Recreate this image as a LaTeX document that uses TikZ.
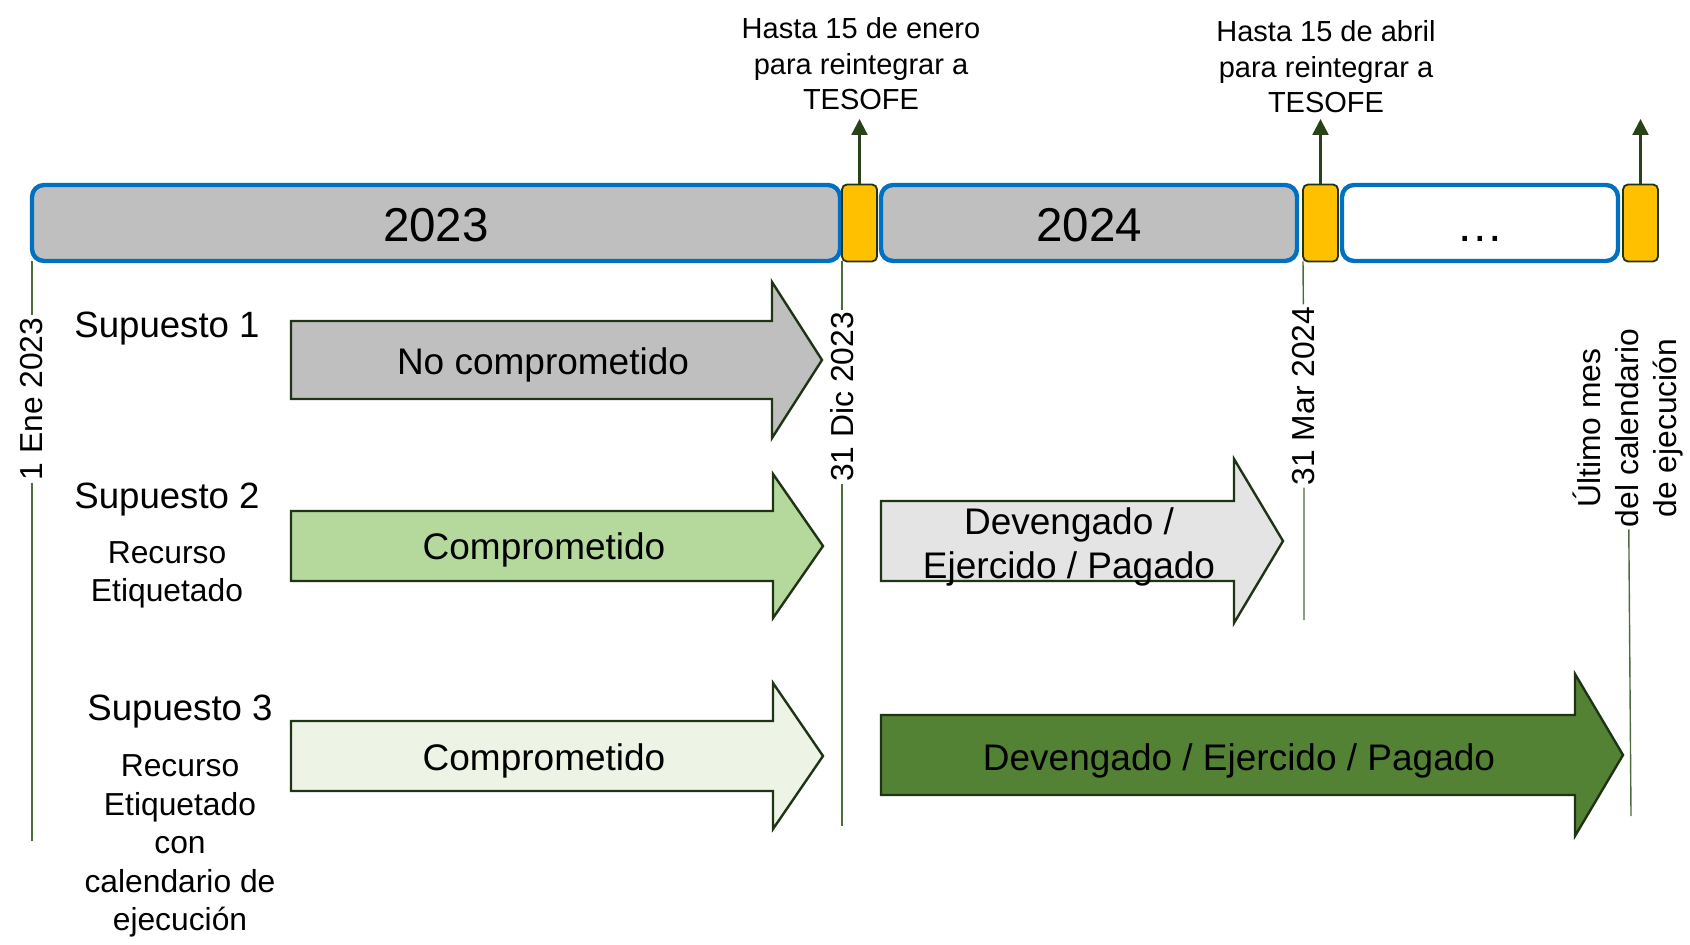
\documentclass[tikz,border=0pt]{standalone}
\usepackage{fontspec}
\setmainfont{Liberation Sans}
\usetikzlibrary{positioning,arrows.meta}
\definecolor{barblue}{HTML}{0070C0}
\definecolor{bargray}{HTML}{BFBFBF}
\definecolor{cutyellow}{HTML}{FFC000}
\definecolor{edgegreen}{HTML}{1F3315}
\definecolor{arrowgreen}{HTML}{28421A}
\definecolor{tickgreen}{HTML}{4E6B3C}
\definecolor{greenmid}{HTML}{B5D89C}
\definecolor{greenpale}{HTML}{EDF4E6}
\definecolor{graypale}{HTML}{E4E4E4}
\definecolor{greendark}{HTML}{548235}

\begin{document}
\begin{tikzpicture}[x=0.5pt,y=-0.5pt,
 yearbar/.style={draw=barblue,line width=2.2pt,rounded corners=6pt,minimum height=38pt,
  inner sep=0pt,outer sep=0pt,text height=19pt,text depth=0pt,font=\fontsize{23.75}{28.5}\selectfont},
 cutbox/.style={draw=edgegreen,fill=cutyellow,line width=0.9pt,rounded corners=2.5pt,
  minimum width=17.5pt,minimum height=38.5pt,inner sep=0pt,outer sep=0pt},
 uparrow/.style={draw=arrowgreen,line width=1.2pt,-{Triangle[length=8pt,width=8pt]}},
 tick/.style={draw=tickgreen,line width=0.7pt},
 datelab/.style={rotate=90,inner sep=1pt,align=center,font=\fontsize{15.9}{19}\selectfont},
 note/.style={align=center,font=\fontsize{14.5}{17.8}\selectfont},
 casename/.style={font=\fontsize{18.3}{22}\selectfont},
 casenote/.style={align=center,font=\fontsize{15.9}{19.2}\selectfont},
 phase/.style={align=center,font=\fontsize{18.5}{22}\selectfont},
 blockarrow/.style={draw=edgegreen,line width=1.2pt,line join=miter}]
\useasboundingbox (0,0) rectangle (1690,945);

\node[yearbar,fill=bargray,minimum width=404pt] (y23) at (436,223) {2023};
\node[cutbox,right=1pt of y23] (c1) {};
\node[yearbar,fill=bargray,minimum width=208pt,right=2pt of c1] (y24) {2024};
\node[cutbox,right=3pt of y24] (c2) {};
\node[yearbar,fill=white,minimum width=138pt,right=2pt of c2] (ydots) {\ldots};
\node[cutbox,right=2.5pt of ydots] (c3) {};

\coordinate (top) at (0,119);
\foreach \c in {c1,c2,c3}{
\draw[uparrow] (\c.north) -- (\c.north |- top);};

\node[note] (n1) at (861,64) {Hasta 15 de enero\\para reintegrar a\\TESOFE};
\node[note] (n2) at (1326,67) {Hasta 15 de abril\\para reintegrar a\\TESOFE};

\coordinate (e1) at (32,841);
\coordinate (e2) at (842,826);
\coordinate (e3) at (1304,620);
\coordinate (e4) at (1631,816);
\node[datelab] (d1) at (32,399) {1 Ene 2023};
\node[datelab] (d2) at (842,397) {31 Dic 2023};
\node[datelab] (d3) at (1304,396) {31 Mar 2024};
\node[datelab,font=\fontsize{15.9}{19}\selectfont] (d4) at (1628,428) {Último mes\\del calendario\\de ejecución};
\draw[tick] (y23.south west) -- (d1) -- (e1);
\draw[tick] (c1.south west) -- (d2) -- (e2);
\draw[tick] (c2.south west) -- (d3) -- (e3);
\draw[tick] (d4) -- (e4);

\foreach \xa/\xb/\xc/\ym/\bh/\hh/\col in {291/772/822/360/39/78/bargray,
 291/773/823/546/35/72/greenmid,291/773/823/756/35/73/greenpale,
 881/1234/1283/541/40/82/graypale,881/1575/1623/755/40/81/greendark}{
\draw[blockarrow,fill=\col] (\xa,\ym-\bh) -- (\xb,\ym-\bh) -- (\xb,\ym-\hh) -- (\xc,\ym)
 -- (\xb,\ym+\hh) -- (\xb,\ym+\bh) -- (\xa,\ym+\bh) -- cycle;};

\node[phase] (p1) at (543,365) {No comprometido};
\node[phase] (p2) at (544,550) {Comprometido};
\node[phase] (p3) at (544,761) {Comprometido};
\node[phase] (p4) at (1069,547) {Devengado /\\Ejercido / Pagado};
\node[phase] (p5) at (1239,761) {Devengado / Ejercido / Pagado};

\node[casename] (s1) at (167,329) {Supuesto 1};
\node[casename] (s2) at (167,500) {Supuesto 2};
\node[casenote] (r2) at (167,575) {Recurso\\Etiquetado};
\node[casename] (s3) at (180,712) {Supuesto 3};
\node[casenote] (r3) at (180,846) {Recurso\\Etiquetado\\con\\calendario de\\ejecución};
\end{tikzpicture}
\end{document}
